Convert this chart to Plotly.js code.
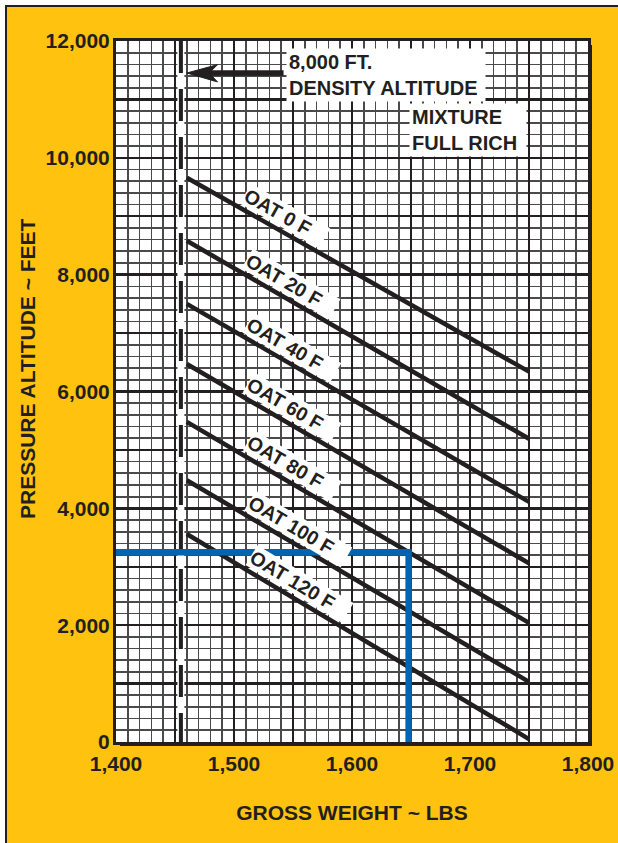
<!DOCTYPE html>
<html>
<head>
<meta charset="utf-8">
<script src="https://cdn.plot.ly/plotly-3.0.1.min.js"></script>
<style>
  html, body { margin: 0; padding: 0; background: #ffffff; width: 618px; height: 843px; overflow: hidden; }
  #frame { position: absolute; left: 5px; top: 5px; width: 611px; height: 836px;
           border-left: 2px solid #231f20; border-top: 2px solid #231f20; background: #ffc20e; }
  #chart { width: 611px; height: 836px; }
</style>
</head>
<body>
<div id="frame"><div id="chart"></div></div>
<script>
// ---------------- data ----------------
const OAT_LABELS = ['OAT 0 F', 'OAT 20 F', 'OAT 40 F', 'OAT 60 F', 'OAT 80 F', 'OAT 100 F', 'OAT 120 F'];
const WEIGHT_START = 1460;   // lbs, left end of each OAT line
const WEIGHT_END = 1750;     // lbs, right end of each OAT line
const ALT_AT_START = [9660, 8580, 7500, 6470, 5480, 4480, 3560];   // ft
const ALT_AT_END   = [6340, 5190, 4110, 3060, 2040, 1030, 50];     // ft
const LABEL_WEIGHT = [1537, 1542, 1543, 1543, 1543, 1548, 1549];   // where each label sits

const DENSITY_ALT_WEIGHT = 1455;          // 8,000 ft density altitude limit line
const EXAMPLE_WEIGHT = 1648;              // blue example path
const EXAMPLE_ALT = 3250;

const X_TICK_VALS = [1400, 1450, 1500, 1550, 1600, 1650, 1700, 1750, 1800];
const X_TICK_TEXT = ['1,400', '', '1,500', '', '1,600', '', '1,700', '', '1,800'];
const Y_TICK_VALS = [0, 1000, 2000, 3000, 4000, 5000, 6000, 7000, 8000, 9000, 10000, 11000, 12000];
const Y_TICK_TEXT = ['0', '', '2,000', '', '4,000', '', '6,000', '', '8,000', '', '10,000', '', '12,000'];

// ---------------- styling ----------------
const INK = '#231f20';
const BLUE = '#0064b0';
const FONT = 'Liberation Sans, Arial, Helvetica, sans-serif';
const W = 611, H = 836;
const M = { l: 109, r: 30, t: 34, b: 101 };
const XR = [1400, 1800], YR = [0, 12000];
const plotW = W - M.l - M.r, plotH = H - M.t - M.b;
const pxPerX = plotW / (XR[1] - XR[0]);
const pxPerY = plotH / (YR[1] - YR[0]);

const traces = [];
// white strip behind the dashed density-altitude line
traces.push({ x: [DENSITY_ALT_WEIGHT, DENSITY_ALT_WEIGHT], y: [YR[1], YR[0]], mode: 'lines',
  line: { color: '#ffffff', width: 7 }, hoverinfo: 'skip', showlegend: false });
traces.push({ x: [DENSITY_ALT_WEIGHT, DENSITY_ALT_WEIGHT], y: [YR[1], YR[0]], mode: 'lines',
  line: { color: INK, width: 4, dash: '32px,16px' }, hoverinfo: 'skip', showlegend: false });

OAT_LABELS.forEach((name, i) => {
  traces.push({ x: [WEIGHT_START, WEIGHT_END], y: [ALT_AT_START[i], ALT_AT_END[i]], mode: 'lines',
    name: name, line: { color: INK, width: 4.5 }, showlegend: false });
});
traces.push({ x: [XR[0], EXAMPLE_WEIGHT, EXAMPLE_WEIGHT], y: [EXAMPLE_ALT, EXAMPLE_ALT, YR[0]],
  mode: 'lines', line: { color: BLUE, width: 6.5 }, showlegend: false, hoverinfo: 'skip' });

const annotations = [];
const PAD = '\u00A0\u00A0\u00A0';
const PERP = 15;
OAT_LABELS.forEach((name, i) => {
  const slope = (ALT_AT_END[i] - ALT_AT_START[i]) / (WEIGHT_END - WEIGHT_START);
  const ang = Math.atan(-slope * pxPerY / pxPerX);  // radians, screen clockwise
  const xv = LABEL_WEIGHT[i];
  const yv = ALT_AT_START[i] + slope * (xv - WEIGHT_START);
  annotations.push({ x: xv, y: yv, xref: 'x', yref: 'y', text: '<b>' + name + PAD + '</b>', showarrow: false,
    textangle: ang * 180 / Math.PI, xanchor: 'center', yanchor: 'middle',
    xshift: PERP * Math.sin(ang), yshift: PERP * Math.cos(ang),
    bgcolor: '#ffffff', borderpad: 0, font: { family: FONT, size: 19.5, color: INK, weight: 'bold' } });
});

function note(x, y, text) {
  return { x: x, y: y, xref: 'x', yref: 'y', text: text, showarrow: false, xanchor: 'left', yanchor: 'top',
    align: 'left', bgcolor: '#ffffff', borderpad: 2,
    font: { family: FONT, size: 20, color: INK, weight: 'bold' } };
}
annotations.push(note(1544, 11880, '<b>8,000 FT.\u00A0\u00A0\u00A0\u00A0\u00A0\u00A0\u00A0</b><br><b>DENSITY ALTITUDE\u00A0</b>'));
annotations.push(note(1648, 10935, '<b>MIXTURE\u00A0\u00A0\u00A0\u00A0</b><br><b>FULL RICH\u00A0</b>'));

// y-axis title (placed as in the original, a little above the middle)
annotations.push({ x: -0.1886, y: 0.5335, xref: 'paper', yref: 'paper', text: '<b>PRESSURE ALTITUDE ~ FEET</b>',
  showarrow: false, textangle: -90, xanchor: 'center', yanchor: 'middle',
  font: { family: FONT, size: 21, color: INK, weight: 'bold' } });

const shapes = [
  // drop shadow of the plot frame
  { type: 'rect', xref: 'paper', yref: 'paper', x0: 4 / plotW, x1: 1 + 4 / plotW, y0: -4 / plotH, y1: 1 - 4 / plotH,
    fillcolor: INK, line: { width: 0 }, layer: 'below' },
  { type: 'rect', xref: 'paper', yref: 'paper', x0: 0, x1: 1, y0: 0, y1: 1,
    fillcolor: '#ffffff', line: { width: 0 }, layer: 'below' },
  // arrow to the density-altitude line
  { type: 'line', xref: 'x', yref: 'y', x0: 1478, x1: 1542, y0: 11452, y1: 11452,
    line: { color: INK, width: 5.5 }, layer: 'above' },
  { type: 'path', xref: 'x', yref: 'y', path: 'M1460,11452 L1486,11595 L1479,11452 L1486,11300 Z',
    fillcolor: INK, line: { color: INK, width: 1 }, layer: 'above' }
];

const axisCommon = {
  showline: true, mirror: true, linewidth: 3, linecolor: INK,
  showgrid: true, gridcolor: INK, gridwidth: 2.4, zeroline: false,
  tickmode: 'array', ticks: '', fixedrange: true,
  tickfont: { family: FONT, size: 21, color: INK, weight: 'bold' }
};

const layout = {
  width: W, height: H, margin: M,
  paper_bgcolor: 'rgba(0,0,0,0)', plot_bgcolor: '#ffffff',
  showlegend: false,
  xaxis: Object.assign({}, axisCommon, {
    range: XR, tickvals: X_TICK_VALS, ticktext: X_TICK_TEXT, ticklabelstandoff: 1,
    minor: { tickmode: 'linear', tick0: 1400, dtick: 10, showgrid: true, gridcolor: '#4a4a4a', gridwidth: 1.7, ticks: '' },
    title: { text: 'GROSS WEIGHT ~ LBS', standoff: 32, font: { family: FONT, size: 21, color: INK, weight: 'bold' } }
  }),
  yaxis: Object.assign({}, axisCommon, {
    range: YR, tickvals: Y_TICK_VALS, ticktext: Y_TICK_TEXT, ticklabelstandoff: -1,
    minor: { tickmode: 'linear', tick0: 0, dtick: 200, showgrid: true, gridcolor: '#4a4a4a', gridwidth: 1.7, ticks: '' }
  }),
  annotations: annotations,
  shapes: shapes
};

Plotly.newPlot('chart', traces, layout, { displayModeBar: false, staticPlot: true });
</script>
</body>
</html>
